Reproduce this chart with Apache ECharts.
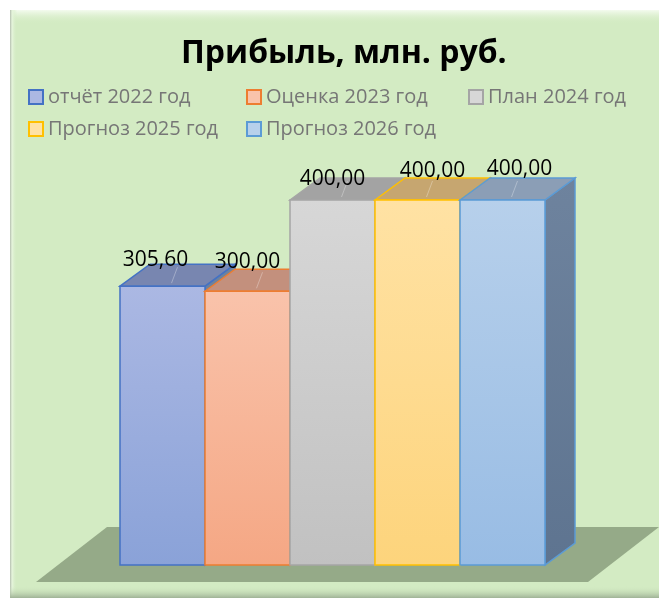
<!DOCTYPE html>
<html>
  <head>
    <meta charset="utf-8" />
    <title>Прибыль, млн. руб.</title>
    <script src="https://cdn.jsdelivr.net/npm/echarts@6/dist/echarts.min.js"></script>
    <style>
      html, body { margin: 0; padding: 0; background: #ffffff; }
    </style>
  </head>
  <body>
    <div id="main" style="width: 659px; height: 600px"></div>
    <script type="text/javascript">
      // данные
      var seriesNames = ['отчёт 2022 год', 'Оценка 2023 год', 'План 2024 год', 'Прогноз 2025 год', 'Прогноз 2026 год'];
      var profitValues = [305.6, 300, 400, 400, 400];

      // оформление
      var frontTop = ['#abb8e3', '#f9c3ab', '#d7d7d7', '#ffe2a4', '#b7d0eb'];
      var frontBottom = ['#8aa2d8', '#f5a784', '#c1c1c1', '#fdd47c', '#98bce4'];
      var edgeColors = ['#4472c4', '#ed7d31', '#a5a5a5', '#ffc000', '#5b9bd5'];
      var topColors = ['#7886b0', '#c3907d', '#a3a3a3', '#c6a670', '#8b9eb6'];
      var legendPos = [[28, 87], [246, 87], [468, 87], [28, 119], [246, 119]];
      var labelShift = [[-7, -4], [0, -7], [0, 1], [15, -7], [17, -9]];

      var DX = 30, DY = 22;
      var FONT = '"Open Sans", sans-serif';

      var chartDom = document.getElementById('main');
      var myChart = echarts.init(chartDom);

      function fmt(v) {
        return v.toFixed(2).replace('.', ',');
      }

      function makeRender(i) {
        return function (params, api) {
          var base = api.coord([api.value(0), 0]);
          var top = api.coord([api.value(0), api.value(1)]);
          var w = api.size([1, 0])[0];
          var left = base[0] - w / 2;
          var right = left + w;
          var bottom = base[1];
          var ty = top[1];
          return {
            type: 'group',
            children: [
              {
                type: 'polygon',
                shape: { points: [[right, ty], [right + DX, ty - DY], [right + DX, bottom - DY], [right, bottom]] },
                style: {
                  fill: new echarts.graphic.LinearGradient(0, 0, 0, 1, [
                    { offset: 0, color: '#6e839e' },
                    { offset: 1, color: '#5e7490' }
                  ]),
                  stroke: edgeColors[i],
                  lineWidth: 1.5
                }
              },
              {
                type: 'polygon',
                shape: { points: [[left, ty], [left + DX, ty - DY], [right + DX, ty - DY], [right, ty]] },
                style: { fill: topColors[i], stroke: edgeColors[i], lineWidth: 1.5 }
              },
              {
                type: 'line',
                shape: { x1: left + w / 2 + DX / 2, y1: ty - DY + 3, x2: left + w / 2 + DX / 2 - 6, y2: ty - 3 },
                style: { stroke: 'rgba(255,255,255,0.3)', lineWidth: 1 }
              },
              {
                type: 'rect',
                shape: { x: left, y: ty, width: w, height: bottom - ty },
                style: {
                  fill: new echarts.graphic.LinearGradient(0, 0, 0, 1, [
                    { offset: 0, color: frontTop[i] },
                    { offset: 1, color: frontBottom[i] }
                  ]),
                  stroke: edgeColors[i],
                  lineWidth: 1.5
                }
              },
              {
                type: 'text',
                z2: 100,
                style: {
                  text: fmt(api.value(1)),
                  x: left + w / 2 + labelShift[i][0],
                  y: ty - DY + labelShift[i][1],
                  align: 'center',
                  verticalAlign: 'middle',
                  fill: '#000000',
                  font: '21px ' + FONT
                }
              }
            ]
          };
        };
      }

      var series = seriesNames.map(function (name, i) {
        return {
          type: 'custom',
          name: name,
          renderItem: makeRender(i),
          itemStyle: { color: frontBottom[i], borderColor: edgeColors[i] },
          data: [[i, profitValues[i]]],
          encode: { x: 0, y: 1 }
        };
      });

      var legends = seriesNames.map(function (name, i) {
        return {
          left: legendPos[i][0],
          top: legendPos[i][1],
          padding: 0,
          itemWidth: 14,
          itemHeight: 14,
          itemGap: 0,
          icon: 'rect',
          selectedMode: false,
          textStyle: { color: '#767676', fontSize: 20, fontFamily: 'Open Sans', padding: [0, 0, 0, 0] },
          data: [{
            name: name,
            itemStyle: { color: frontTop[i], borderColor: edgeColors[i], borderWidth: 2 }
          }]
        };
      });

      var option = {
        backgroundColor: '#ffffff',
        animation: false,
        title: {
          text: 'Прибыль, млн. руб.',
          left: 176,
          top: 33,
          textStyle: { fontSize: 32, fontWeight: 'bold', color: '#000000', fontFamily: 'Open Sans' }
        },
        legend: legends,
        grid: { left: 120, right: 114, top: 200, bottom: 35 },
        xAxis: {
          type: 'category',
          data: seriesNames,
          show: false
        },
        yAxis: {
          type: 'value',
          min: 0,
          max: 400,
          show: false
        },
        graphic: [
          // фон и рамка
          { type: 'rect', z: -10, shape: { x: 10, y: 10, width: 649, height: 588 }, style: { fill: '#d3ebc3' } },
          { type: 'rect', z: -9, shape: { x: 10, y: 10, width: 649, height: 14 },
            style: { fill: new echarts.graphic.LinearGradient(0, 0, 0, 1, [
              { offset: 0, color: '#f4fbef' }, { offset: 1, color: 'rgba(211,235,195,0)' }]) } },
          { type: 'rect', z: -9, shape: { x: 10, y: 10, width: 7, height: 588 },
            style: { fill: new echarts.graphic.LinearGradient(0, 0, 1, 0, [
              { offset: 0, color: '#b5bfb0' }, { offset: 0.3, color: '#e6f5dc' }, { offset: 1, color: 'rgba(211,235,195,0)' }]) } },
          { type: 'rect', z: -9, shape: { x: 10, y: 586, width: 649, height: 12 },
            style: { fill: new echarts.graphic.LinearGradient(0, 0, 0, 1, [
              { offset: 0, color: 'rgba(211,235,195,0)' }, { offset: 1, color: '#9fb296' }]) } },
          // пол
          { type: 'polygon', z: -5, shape: { points: [[36, 582], [107, 527], [659, 527], [588, 582]] }, style: { fill: '#95aa88' } }
        ],
        series: series
      };

      option && myChart.setOption(option);
    </script>
  </body>
</html>
